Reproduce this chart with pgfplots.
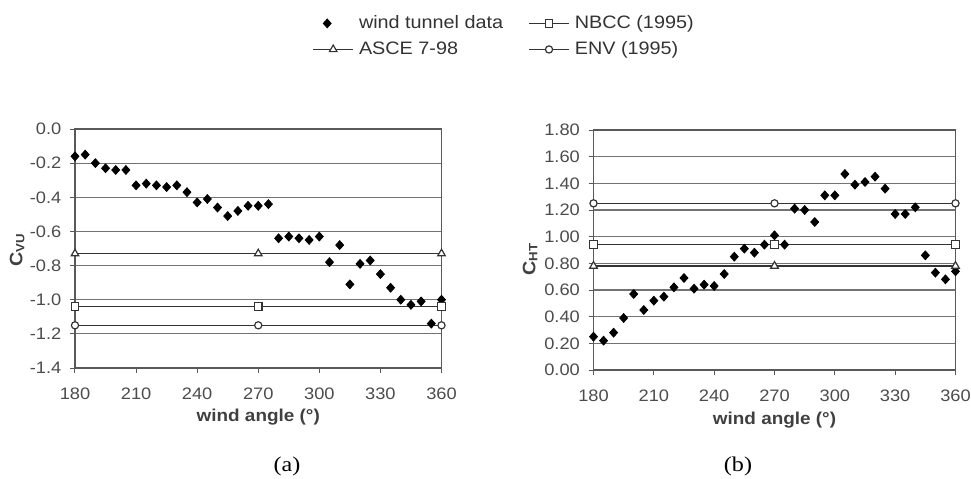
\documentclass[border=0pt]{standalone}
\usepackage{pgfplots}
\pgfplotsset{compat=1.18}
\usepackage{pgfplotstable}
\usepackage{fontspec}
\setmainfont{Liberation Sans}[FakeStretch=1.1]
\newfontfamily\capfont{Liberation Serif}[FakeStretch=1.15]

% wind tunnel data, panel (a): C_VU
\pgfplotstableread{
angle val
180 -0.16
185 -0.15
190 -0.20
195 -0.23
200 -0.24
205 -0.24
210 -0.33
215 -0.32
220 -0.33
225 -0.34
230 -0.33
235 -0.37
240 -0.43
245 -0.41
250 -0.46
255 -0.51
260 -0.48
265 -0.45
270 -0.45
275 -0.44
280 -0.64
285 -0.63
290 -0.64
295 -0.65
300 -0.63
305 -0.78
310 -0.68
315 -0.91
320 -0.79
325 -0.77
330 -0.85
335 -0.93
340 -1.00
345 -1.03
350 -1.01
355 -1.14
360 -1.00
}\cvu

% wind tunnel data, panel (b): C_HT
\pgfplotstableread{
angle val
180 0.25
185 0.22
190 0.28
195 0.39
200 0.57
205 0.45
210 0.52
215 0.55
220 0.62
225 0.69
230 0.61
235 0.64
240 0.63
245 0.72
250 0.85
255 0.91
260 0.88
265 0.94
270 1.01
275 0.94
280 1.21
285 1.20
290 1.11
295 1.31
300 1.31
305 1.47
310 1.39
315 1.41
320 1.45
325 1.36
330 1.17
335 1.17
340 1.22
345 0.86
350 0.73
355 0.68
360 0.74
}\cht

\pgfplotsset{
  panel/.style={
    scale only axis, anchor=south west, clip=false,
    xmin=180, xmax=360, xtick={180,210,240,270,300,330,360},
    axis line style={black!65, line width=0.6pt},
    ymajorgrids, grid style={black!55, line width=0.6pt},
    tick align=outside, major tick length=2.5pt,
    tick style={black!65, line width=0.5pt},
    xtick pos=bottom, ytick pos=left,
    ticklabel style={font=\fontsize{8.3}{10}\selectfont, text=black!70},
    xticklabel style={yshift=-4pt},
    yticklabel style={xshift=-0.8pt},
    /pgf/number format/assume math mode=true,
    xlabel={wind angle (°)},
    xlabel style={font=\bfseries\fontsize{8.6}{10}\selectfont, text=black!75, anchor=center},
    ylabel style={font=\bfseries\fontsize{9}{10}\selectfont, text=black!75, anchor=center},
  },
  wtd/.style={only marks, mark=diamond*, mark size=2.2pt, black,
    mark options={xscale=1.2},
    legend image code/.code={\draw[##1, only marks, mark repeat=2, mark phase=2]
      plot coordinates {(0pt,0pt) (7pt,0pt) (14pt,0pt)};}},
  refl/.style={black!80, line width=0.8pt, mark options={fill=white, solid, line width=0.6pt}},
}

\begin{document}
\begin{tikzpicture}[x=1pt,y=1pt]
\useasboundingbox (0,0) rectangle (485.5,239);

\begin{axis}[panel,
  at={(37.5pt,55pt)}, width=183.25pt, height=119.5pt,
  ymin=-1.4, ymax=0,
  ytick={-1.4,-1.2,-1,-0.8,-0.6,-0.4,-0.2,0},
  yticklabel style={/pgf/number format/.cd, fixed, fixed zerofill, precision=1},
  xlabel style={at={(axis description cs:0.5,-0.205)}},
  ylabel={C\textsubscript{VU}},
  ylabel style={at={(axis description cs:-0.158,0.494)}},
  legend columns=2,
  legend cell align=left,
  legend image code/.code={\draw[mark repeat=2, mark phase=2, #1]
      plot coordinates {(0pt,0pt) (10pt,0pt) (20pt,0pt)};},
  legend style={draw=none, fill=none, inner sep=0pt,
    font=\fontsize{9}{10}\selectfont, text=black!80,
    nodes={inner sep=2.5pt},
    /tikz/every even column/.append style={column sep=10pt},
    at={(axis description cs:0.6467,1.498)}, anchor=north west},
]
\addplot[wtd] table[x=angle, y=val] {\cvu};
\addlegendentry{wind tunnel data}
\addplot[refl, mark=square*, mark size=1.9pt] coordinates {(180,-1.04) (270,-1.04) (360,-1.04)};
\addlegendentry{NBCC (1995)}
\addplot[refl, mark=triangle*, mark size=2.2pt] coordinates {(180,-0.73) (270,-0.73) (360,-0.73)};
\addlegendentry{ASCE 7-98}
\addplot[refl, mark=*, mark size=1.8pt] coordinates {(180,-1.15) (270,-1.15) (360,-1.15)};
\addlegendentry{ENV (1995)}
\end{axis}

\begin{axis}[panel,
  at={(296.75pt,54pt)}, width=181pt, height=120pt,
  ymin=0, ymax=1.8,
  ytick={0,0.2,0.4,0.6,0.8,1,1.2,1.4,1.6,1.8},
  yticklabel style={/pgf/number format/.cd, fixed, fixed zerofill, precision=2},
  xlabel style={at={(axis description cs:0.5,-0.208)}},
  ylabel={C\textsubscript{HT}},
  ylabel style={at={(axis description cs:-0.1754,0.4625)}},
]
\addplot[wtd] table[x=angle, y=val] {\cht};
\addplot[refl, mark=square*, mark size=1.9pt] coordinates {(180,0.94) (270,0.94) (360,0.94)};
\addplot[refl, mark=triangle*, mark size=2.2pt] coordinates {(180,0.78) (270,0.78) (360,0.78)};
\addplot[refl, mark=*, mark size=1.8pt] coordinates {(180,1.25) (270,1.25) (360,1.25)};
\end{axis}

\node[font=\capfont\fontsize{10.5}{12}\selectfont] at (143.5,6) {(a)};
\node[font=\capfont\fontsize{10.5}{12}\selectfont] at (369,6) {(b)};
\end{tikzpicture}
\end{document}
